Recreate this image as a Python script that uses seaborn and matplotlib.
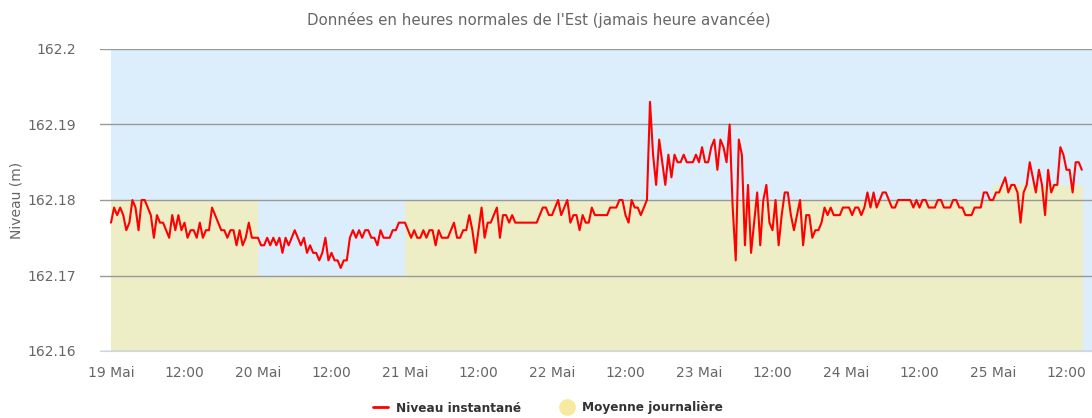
import numpy as np
import pandas as pd
import matplotlib
matplotlib.use("Agg")
import matplotlib.pyplot as plt
import matplotlib.dates as mdates
from matplotlib.lines import Line2D
import seaborn as sns

# Niveau instantané, une lecture toutes les 30 min, par jour
niveau_19 = [162.177, 162.179, 162.178, 162.179, 162.178, 162.176, 162.177, 162.180, 162.179, 162.176,
             162.180, 162.180, 162.179, 162.178, 162.175, 162.178, 162.177, 162.177, 162.176, 162.175,
             162.178, 162.176, 162.178, 162.176, 162.177, 162.175, 162.176, 162.176, 162.175, 162.177,
             162.175, 162.176, 162.176, 162.179, 162.178, 162.177, 162.176, 162.176, 162.175, 162.176,
             162.176, 162.174, 162.176, 162.174, 162.175, 162.177, 162.175, 162.175]
niveau_20 = [162.175, 162.174, 162.174, 162.175, 162.174, 162.175, 162.174, 162.175, 162.173, 162.175,
             162.174, 162.175, 162.176, 162.175, 162.174, 162.175, 162.173, 162.174, 162.173, 162.173,
             162.172, 162.173, 162.175, 162.172, 162.173, 162.172, 162.172, 162.171, 162.172, 162.172,
             162.175, 162.176, 162.175, 162.176, 162.175, 162.176, 162.176, 162.175, 162.175, 162.174,
             162.176, 162.175, 162.175, 162.175, 162.176, 162.176, 162.177, 162.177]
niveau_21 = [162.177, 162.176, 162.175, 162.176, 162.175, 162.175, 162.176, 162.175, 162.176, 162.176,
             162.174, 162.176, 162.175, 162.175, 162.175, 162.176, 162.177, 162.175, 162.175, 162.176,
             162.176, 162.178, 162.176, 162.173, 162.176, 162.179, 162.175, 162.177, 162.177, 162.178,
             162.179, 162.175, 162.178, 162.178, 162.177, 162.178, 162.177, 162.177, 162.177, 162.177,
             162.177, 162.177, 162.177, 162.177, 162.178, 162.179, 162.179, 162.178]
niveau_22 = [162.178, 162.179, 162.180, 162.178, 162.179, 162.180, 162.177, 162.178, 162.178, 162.176,
             162.178, 162.177, 162.177, 162.179, 162.178, 162.178, 162.178, 162.178,
             162.178, 162.179, 162.179, 162.179, 162.180, 162.180, 162.178, 162.177, 162.180, 162.179,
             162.179, 162.178, 162.179, 162.180, 162.193, 162.186, 162.182, 162.188, 162.185, 162.182,
             162.186, 162.183, 162.186, 162.185, 162.185, 162.186, 162.185, 162.185, 162.185, 162.186]
niveau_23 = [162.185, 162.187, 162.185, 162.185, 162.187, 162.188, 162.184, 162.188, 162.187, 162.185,
             162.190, 162.179, 162.172, 162.188, 162.186, 162.174, 162.182, 162.173, 162.177, 162.181,
             162.174, 162.180, 162.182, 162.177, 162.176, 162.180, 162.174, 162.178, 162.181, 162.181,
             162.178, 162.176, 162.178, 162.180, 162.174, 162.178, 162.178, 162.175, 162.176, 162.176,
             162.177, 162.179, 162.178, 162.179, 162.178, 162.178, 162.178, 162.179]
niveau_24 = [162.179, 162.179, 162.178, 162.179, 162.179, 162.178, 162.179, 162.181, 162.179, 162.181,
             162.179, 162.180, 162.181, 162.181, 162.180, 162.179, 162.179, 162.180, 162.180, 162.180,
             162.180, 162.180, 162.179, 162.180, 162.179, 162.180, 162.180, 162.179, 162.179, 162.179,
             162.180, 162.180, 162.179, 162.179, 162.179, 162.180, 162.180, 162.179, 162.179, 162.178,
             162.178, 162.178, 162.179, 162.179, 162.179, 162.181, 162.181, 162.180]
niveau_25 = [162.180, 162.181, 162.181, 162.182, 162.183, 162.181, 162.182, 162.182, 162.181, 162.177,
             162.181, 162.182, 162.185, 162.183, 162.181, 162.184, 162.182, 162.178, 162.184, 162.181,
             162.182, 162.182, 162.187, 162.186, 162.184, 162.184, 162.181, 162.185, 162.185, 162.184]

# Moyenne journalière
jours = ["2021-05-19", "2021-05-20", "2021-05-21", "2021-05-22", "2021-05-23", "2021-05-24", "2021-05-25"]
moyenne = [162.18, 162.17, 162.18, 162.18, 162.18, 162.18, 162.182]

y_ticks = [162.16, 162.17, 162.18, 162.19, 162.2]

niveau = niveau_19 + niveau_20 + niveau_21 + niveau_22 + niveau_23 + niveau_24 + niveau_25
temps = pd.date_range("2021-05-19 00:00", periods=len(niveau), freq="30min")
df = pd.DataFrame({"temps": temps, "niveau": niveau})

sns.set_style("white")
plt.rcParams["font.family"] = ["DejaVu Sans"]

fig = plt.figure(figsize=(10.92, 4.18), dpi=100)
ax = fig.add_axes([100 / 1092, 67 / 418, 992 / 1092, 302 / 418])

debut = pd.to_datetime(jours)
fin = list(debut[1:]) + [temps[-1] + pd.Timedelta("15min")]
x0 = mdates.date2num(debut)
largeur = mdates.date2num(fin) - x0

# fond bleu sur la période des données
ax.axvspan(x0[0], x0[0] + 7, color="#dcedfb", zorder=0, lw=0)
ax.bar(x0, moyenne, width=largeur, align="edge", color="#eeeec6", zorder=1, lw=0)

sns.lineplot(data=df, x="temps", y="niveau", ax=ax, color="#ff0000", lw=1.5, zorder=3)

ax.set_ylim(162.16, 162.2)
ax.set_xlim(x0[0] - 11 / 147, x0[0] + 981 / 147)
ax.set_yticks(y_ticks)
ax.set_yticklabels(["162.16", "162.17", "162.18", "162.19", "162.2"])
ax.yaxis.grid(True, color="#999999", lw=1)
ax.set_axisbelow(False)

ax.xaxis.set_major_locator(mdates.HourLocator(byhour=[0, 12]))
def fmt(x, pos):
    d = mdates.num2date(x)
    return f"{d.day} Mai" if d.hour == 0 else "12:00"
ax.xaxis.set_major_formatter(plt.FuncFormatter(fmt))

ax.tick_params(axis="x", length=7, color="#ccd6eb", labelcolor="#666666", labelsize=10, pad=4)
ax.tick_params(axis="y", length=0, labelcolor="#666666", labelsize=10, pad=17)
for s in ["top", "right", "left"]:
    ax.spines[s].set_visible(False)
ax.spines["bottom"].set_color("#ccd6eb")
ax.set_xlabel("")
ax.set_ylabel("")

fig.text(17 / 1092, 1 - 200 / 418, "Niveau (m)", rotation=90, ha="center", va="center",
         color="#666666", fontsize=10)
fig.text(539 / 1092, 1 - 20 / 418, "Données en heures normales de l'Est (jamais heure avancée)",
         ha="center", va="center", color="#666666", fontsize=10.8)

handles = [Line2D([], [], color="#ff0000", lw=2),
           Line2D([], [], marker="o", ls="none", markersize=11, color="#f7e9a0")]
fig.legend(handles, ["Niveau instantané", "Moyenne journalière"], loc="center",
           bbox_to_anchor=(548 / 1092, 1 - 408 / 418), ncol=2, frameon=False,
           handlelength=1.3, columnspacing=3.2, handletextpad=0.6,
           prop={"weight": "bold", "size": 8.7}, labelcolor="#333333")

fig.savefig("out.png", dpi=100)
